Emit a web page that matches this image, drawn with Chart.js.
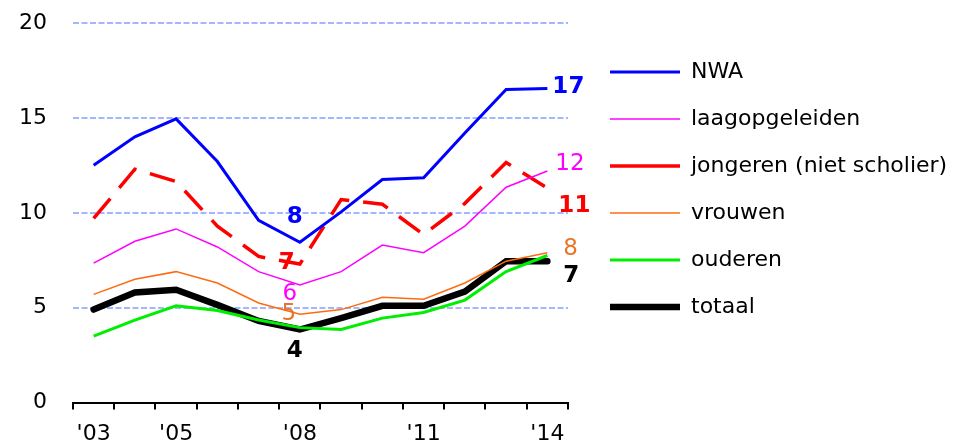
<!DOCTYPE html>
<html lang="nl">
<head>
<meta charset="UTF-8">
<title>Werkloosheid</title>
<script src="https://cdn.jsdelivr.net/npm/chart.js"></script>
<style>
  html, body { margin: 0; padding: 0; background: #fff; }
  #wrap { width: 956px; height: 446px; }
</style>
</head>
<body>
<div id="wrap"><canvas id="myChart"></canvas></div>
<script>
// data
const years = ['2003', '2004', '2005', '2006', '2007', '2008', '2009', '2010', '2011', '2012', '2013', '2014'];
const tickLabels = ["'03", '', "'05", '', '', "'08", '', '', "'11", '', '', "'14"];
const nwa = [12.5, 14.0, 14.95, 12.7, 9.6, 8.45, 10.05, 11.75, 11.85, 14.2, 16.5, 16.55];
const laagopgeleiden = [7.35, 8.5, 9.15, 8.2, 6.9, 6.2, 6.9, 8.3, 7.9, 9.3, 11.35, 12.2];
const jongeren = [9.7, 12.3, 11.65, 9.3, 7.7, 7.3, 10.7, 10.45, 8.85, 10.5, 12.65, 11.3];
const vrouwen = [5.7, 6.5, 6.9, 6.3, 5.25, 4.65, 4.9, 5.55, 5.45, 6.3, 7.45, 7.9];
const ouderen = [3.5, 4.35, 5.1, 4.85, 4.35, 3.95, 3.85, 4.45, 4.75, 5.4, 6.9, 7.75];
const totaal = [4.9, 5.8, 5.95, 5.15, 4.3, 3.85, 4.45, 5.1, 5.1, 5.85, 7.45, 7.45];
const labels08 = ['8', '6', '7', '5', '', '4'];
const labels14 = ['17', '12', '11', '8', '', '7'];

const FONT = '"DejaVu Sans", Verdana, sans-serif';

// where each value label sits relative to its point
const labelStyles = [
    { color: '#0000ff', bold: true, mid: { dx: -5, dy: -25, align: 'center' }, end: { dx: 5, dy: -1, align: 'left' } },
    { color: '#ff00ff', bold: false, mid: { dx: -10, dy: 9, align: 'center' }, end: { dx: 8, dy: -7, align: 'left' } },
    { color: '#ff0000', bold: true, mid: { dx: -13, dy: -1, align: 'center' }, end: { dx: 11, dy: 18, align: 'left' } },
    { color: '#e8762a', bold: false, mid: { dx: -11, dy: 0, align: 'center' }, end: { dx: 16, dy: -4, align: 'left' } },
    { color: '#00ee00', bold: false, mid: null, end: null },
    { color: '#000000', bold: true, mid: { dx: -5, dy: 22, align: 'center' }, end: { dx: 16, dy: 15, align: 'left' } }
];

const valueLabels = {
    id: 'valueLabels',
    afterDatasetsDraw(chart) {
        const ctx = chart.ctx;
        chart.data.datasets.forEach((ds, i) => {
            const meta = chart.getDatasetMeta(i);
            const st = labelStyles[i];
            [[5, labels08[i], st.mid], [11, labels14[i], st.end]].forEach(([idx, txt, pos]) => {
                if (!txt || !pos) return;
                const pt = meta.data[idx];
                ctx.save();
                ctx.font = (st.bold ? 'bold ' : '') + '23px ' + FONT;
                ctx.fillStyle = st.color;
                ctx.textAlign = pos.align;
                ctx.textBaseline = 'middle';
                ctx.fillText(txt, pt.x + pos.dx, pt.y + pos.dy);
                ctx.restore();
            });
        });
    }
};

// legend lives to the right of the plot, outside the chart area
const legendShift = {
    id: 'legendShift',
    afterLayout(chart) {
        const lg = chart.legend;
        const area = chart.chartArea;
        lg.left = area.right + 17;
        lg.right = lg.left + lg.width;
        lg.top = area.top + 13;
        lg.bottom = lg.top + lg.height;
    }
};

const gridBlue = '#a4b6ff';

new Chart(document.getElementById('myChart'), {
    type: 'line',
    data: {
        labels: years,
        datasets: [
            { label: 'NWA', data: nwa, borderColor: '#0000ff', borderWidth: 3 },
            { label: 'laagopgeleiden', data: laagopgeleiden, borderColor: '#ff00ff', borderWidth: 1.5 },
            { label: 'jongeren (niet scholier)', data: jongeren, borderColor: '#ff0000', borderWidth: 3.5, borderDash: [26, 14] },
            { label: 'vrouwen', data: vrouwen, borderColor: '#ff6a10', borderWidth: 1.5 },
            { label: 'ouderen', data: ouderen, borderColor: '#00ee00', borderWidth: 3 },
            { label: 'totaal', data: totaal, borderColor: '#000000', borderWidth: 6.5, borderCapStyle: 'round' }
        ].map(d => Object.assign({ pointRadius: 0, pointStyle: 'line', tension: 0, fill: false, borderJoinStyle: 'miter' }, d))
    },
    options: {
        responsive: true,
        maintainAspectRatio: false,
        animation: false,
        devicePixelRatio: 1,
        layout: { padding: { left: 17, top: 23, right: 388, bottom: -12 } },
        plugins: {
            title: { display: false },
            tooltip: { enabled: false },
            legend: {
                position: 'chartArea',
                align: 'start',
                labels: {
                    usePointStyle: true,
                    pointStyleWidth: 70,
                    padding: 25,
                    color: '#000',
                    font: { family: FONT, size: 22 }
                }
            }
        },
        scales: {
            x: {
                offset: true,
                border: { display: true, color: '#000', width: 2 },
                grid: { offset: true, drawOnChartArea: false, drawTicks: true, tickLength: 7, color: '#000', lineWidth: 2 },
                ticks: {
                    autoSkip: false,
                    maxRotation: 0,
                    padding: 11,
                    color: '#000',
                    font: { family: FONT, size: 22 },
                    callback: (v, i) => tickLabels[i]
                }
            },
            y: {
                min: 0,
                max: 20,
                border: { display: false, dash: [6, 2.5] },
                grid: {
                    drawTicks: true,
                    tickLength: 24,
                    tickColor: 'rgba(0,0,0,0)',
                    lineWidth: 2,
                    color: c => c.tick.value === 0 ? 'rgba(0,0,0,0)' : gridBlue
                },
                ticks: {
                    stepSize: 5,
                    padding: 2,
                    color: '#000',
                    font: { family: FONT, size: 22 }
                }
            }
        }
    },
    plugins: [valueLabels, legendShift]
});
</script>
</body>
</html>
